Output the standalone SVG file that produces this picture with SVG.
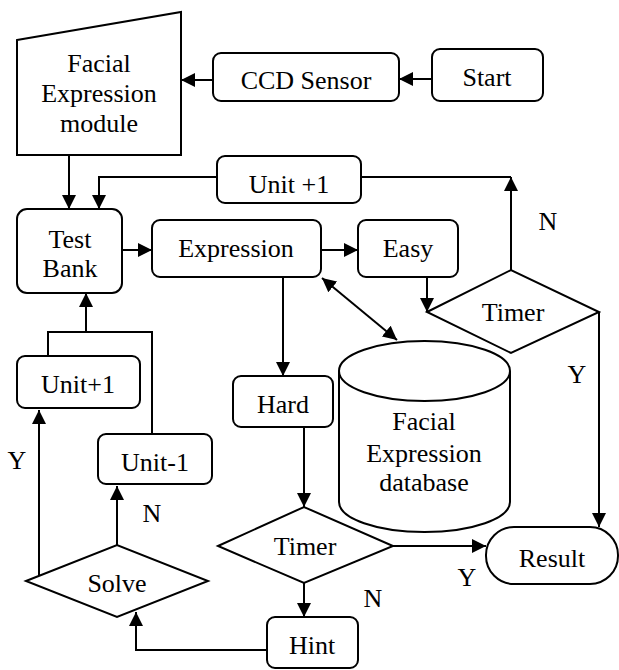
<svg xmlns="http://www.w3.org/2000/svg" width="619" height="670" viewBox="0 0 619 670" font-family="'Liberation Serif', 'Times New Roman', Times, 'DejaVu Serif', serif">
  <style>
    .shape { fill: #ffffff; stroke: #000000; stroke-width: 2; }
    .conn { fill: none; stroke: #000000; stroke-width: 2; }
    .lbl { font-family: 'Liberation Serif', 'Times New Roman', Times, 'DejaVu Serif', serif; font-size: 26px; fill: #000000; text-anchor: middle; }
  </style>
  <defs>
    <marker id="arrow" markerUnits="userSpaceOnUse" markerWidth="14" markerHeight="14" refX="14" refY="7" orient="auto">
      <path d="M0,0 L14,7 L0,14 Z" fill="#000000"/>
    </marker>
    <marker id="arrowStart" markerUnits="userSpaceOnUse" markerWidth="14" markerHeight="14" refX="0" refY="7" orient="auto">
      <path d="M14,0 L0,7 L14,14 Z" fill="#000000"/>
    </marker>
  </defs>

  <!-- connectors and branch labels -->
  <g id="connectors">
    <path class="conn" d="M432,79 L399,79" marker-end="url(#arrow)"/>
    <path class="conn" d="M213,80 L181,80" marker-end="url(#arrow)"/>
    <path class="conn" d="M69,155 L69,209" marker-end="url(#arrow)"/>
    <path class="conn" d="M217,177 L99,177 L99,209" marker-end="url(#arrow)"/>
    <path class="conn" d="M511,270 L511,177" marker-end="url(#arrow)"/>
    <path class="conn" d="M511,177 L361,177"/>
    <path class="conn" d="M122,250 L152,250" marker-end="url(#arrow)"/>
    <path class="conn" d="M321,250 L358,250" marker-end="url(#arrow)"/>
    <path class="conn" d="M427,277 L427,312" marker-end="url(#arrow)"/>
    <path class="conn" d="M599,312 L599,527" marker-end="url(#arrow)"/>
    <path class="conn" d="M322,278 L397,340" marker-start="url(#arrowStart)" marker-end="url(#arrow)"/>
    <path class="conn" d="M283,277 L283,376" marker-end="url(#arrow)"/>
    <path class="conn" d="M304,427 L304,507" stroke-width="2.6" marker-end="url(#arrow)"/>
    <path class="conn" d="M393,546 L486,546" marker-end="url(#arrow)"/>
    <path class="conn" d="M304,583 L304,617" marker-end="url(#arrow)"/>
    <path class="conn" d="M267,650 L136,650 L136,612" marker-end="url(#arrow)"/>
    <path class="conn" d="M117,545 L117,486" marker-end="url(#arrow)"/>
    <path class="conn" d="M39,581 L39,410" marker-end="url(#arrow)"/>
    <path class="conn" d="M48,356 L48,332 L152,332 L152,434"/>
    <path class="conn" d="M86,332 L86,293" marker-end="url(#arrow)"/>
    <text class="lbl" x="548" y="230">N</text>
    <text class="lbl" x="577" y="383">Y</text>
    <text class="lbl" x="467" y="586">Y</text>
    <text class="lbl" x="373" y="607">N</text>
    <text class="lbl" x="152" y="522">N</text>
    <text class="lbl" x="17" y="469">Y</text>
  </g>

  <g id="facial-module">
    <path class="shape" d="M17,40 L181,12 L181,155 L17,155 Z"/>
    <text class="lbl" x="99" y="72">Facial</text>
    <text class="lbl" x="99" y="102">Expression</text>
    <text class="lbl" x="99" y="132">module</text>
  </g>

  <g id="ccd-sensor">
    <rect class="shape" x="213" y="53" width="186" height="48" rx="8"/>
    <text class="lbl" x="306" y="89">CCD Sensor</text>
  </g>

  <g id="start">
    <rect class="shape" x="432" y="49" width="111" height="52" rx="8"/>
    <text class="lbl" x="487" y="86">Start</text>
  </g>

  <g id="unit-plus-top">
    <rect class="shape" x="217" y="156" width="144" height="47" rx="8"/>
    <text class="lbl" x="289" y="193">Unit +1</text>
  </g>

  <g id="test-bank">
    <rect class="shape" x="17" y="209" width="105" height="84" rx="10"/>
    <text class="lbl" x="70" y="248">Test</text>
    <text class="lbl" x="70" y="277">Bank</text>
  </g>

  <g id="expression">
    <rect class="shape" x="152" y="220" width="169" height="57" rx="8"/>
    <text class="lbl" x="236" y="257">Expression</text>
  </g>

  <g id="easy">
    <rect class="shape" x="358" y="220" width="100" height="57" rx="8"/>
    <text class="lbl" x="408" y="257">Easy</text>
  </g>

  <g id="timer-easy">
    <path class="shape" d="M427,312 L511,270 L599,312 L511,353 Z"/>
    <text class="lbl" x="513" y="321">Timer</text>
  </g>

  <g id="database">
    <path class="shape" d="M339,371 L339,502 A85.5,30 0 0 0 510,502 L510,371"/>
    <ellipse class="shape" cx="424.5" cy="371" rx="85.5" ry="30"/>
    <text class="lbl" x="424" y="430">Facial</text>
    <text class="lbl" x="424" y="462">Expression</text>
    <text class="lbl" x="424" y="491">database</text>
  </g>

  <g id="hard">
    <rect class="shape" x="233" y="376" width="100" height="51" rx="8"/>
    <text class="lbl" x="283" y="413">Hard</text>
  </g>

  <g id="unit-plus-left">
    <rect class="shape" x="17" y="356" width="123" height="52" rx="8"/>
    <text class="lbl" x="78" y="393">Unit+1</text>
  </g>

  <g id="unit-minus">
    <rect class="shape" x="98" y="434" width="114" height="50" rx="8"/>
    <text class="lbl" x="155" y="471">Unit-1</text>
  </g>

  <g id="timer-hard">
    <path class="shape" d="M218,546 L304,507 L393,546 L304,583 Z"/>
    <text class="lbl" x="305" y="555">Timer</text>
  </g>

  <g id="solve">
    <path class="shape" d="M26,581 L117,545 L208,581 L117,617 Z"/>
    <text class="lbl" x="117" y="592">Solve</text>
  </g>

  <g id="hint">
    <rect class="shape" x="267" y="617" width="91" height="51" rx="8"/>
    <text class="lbl" x="312" y="654">Hint</text>
  </g>

  <g id="result">
    <rect class="shape" x="486" y="527" width="132" height="57" rx="28"/>
    <text class="lbl" x="552" y="567">Result</text>
  </g>
</svg>
